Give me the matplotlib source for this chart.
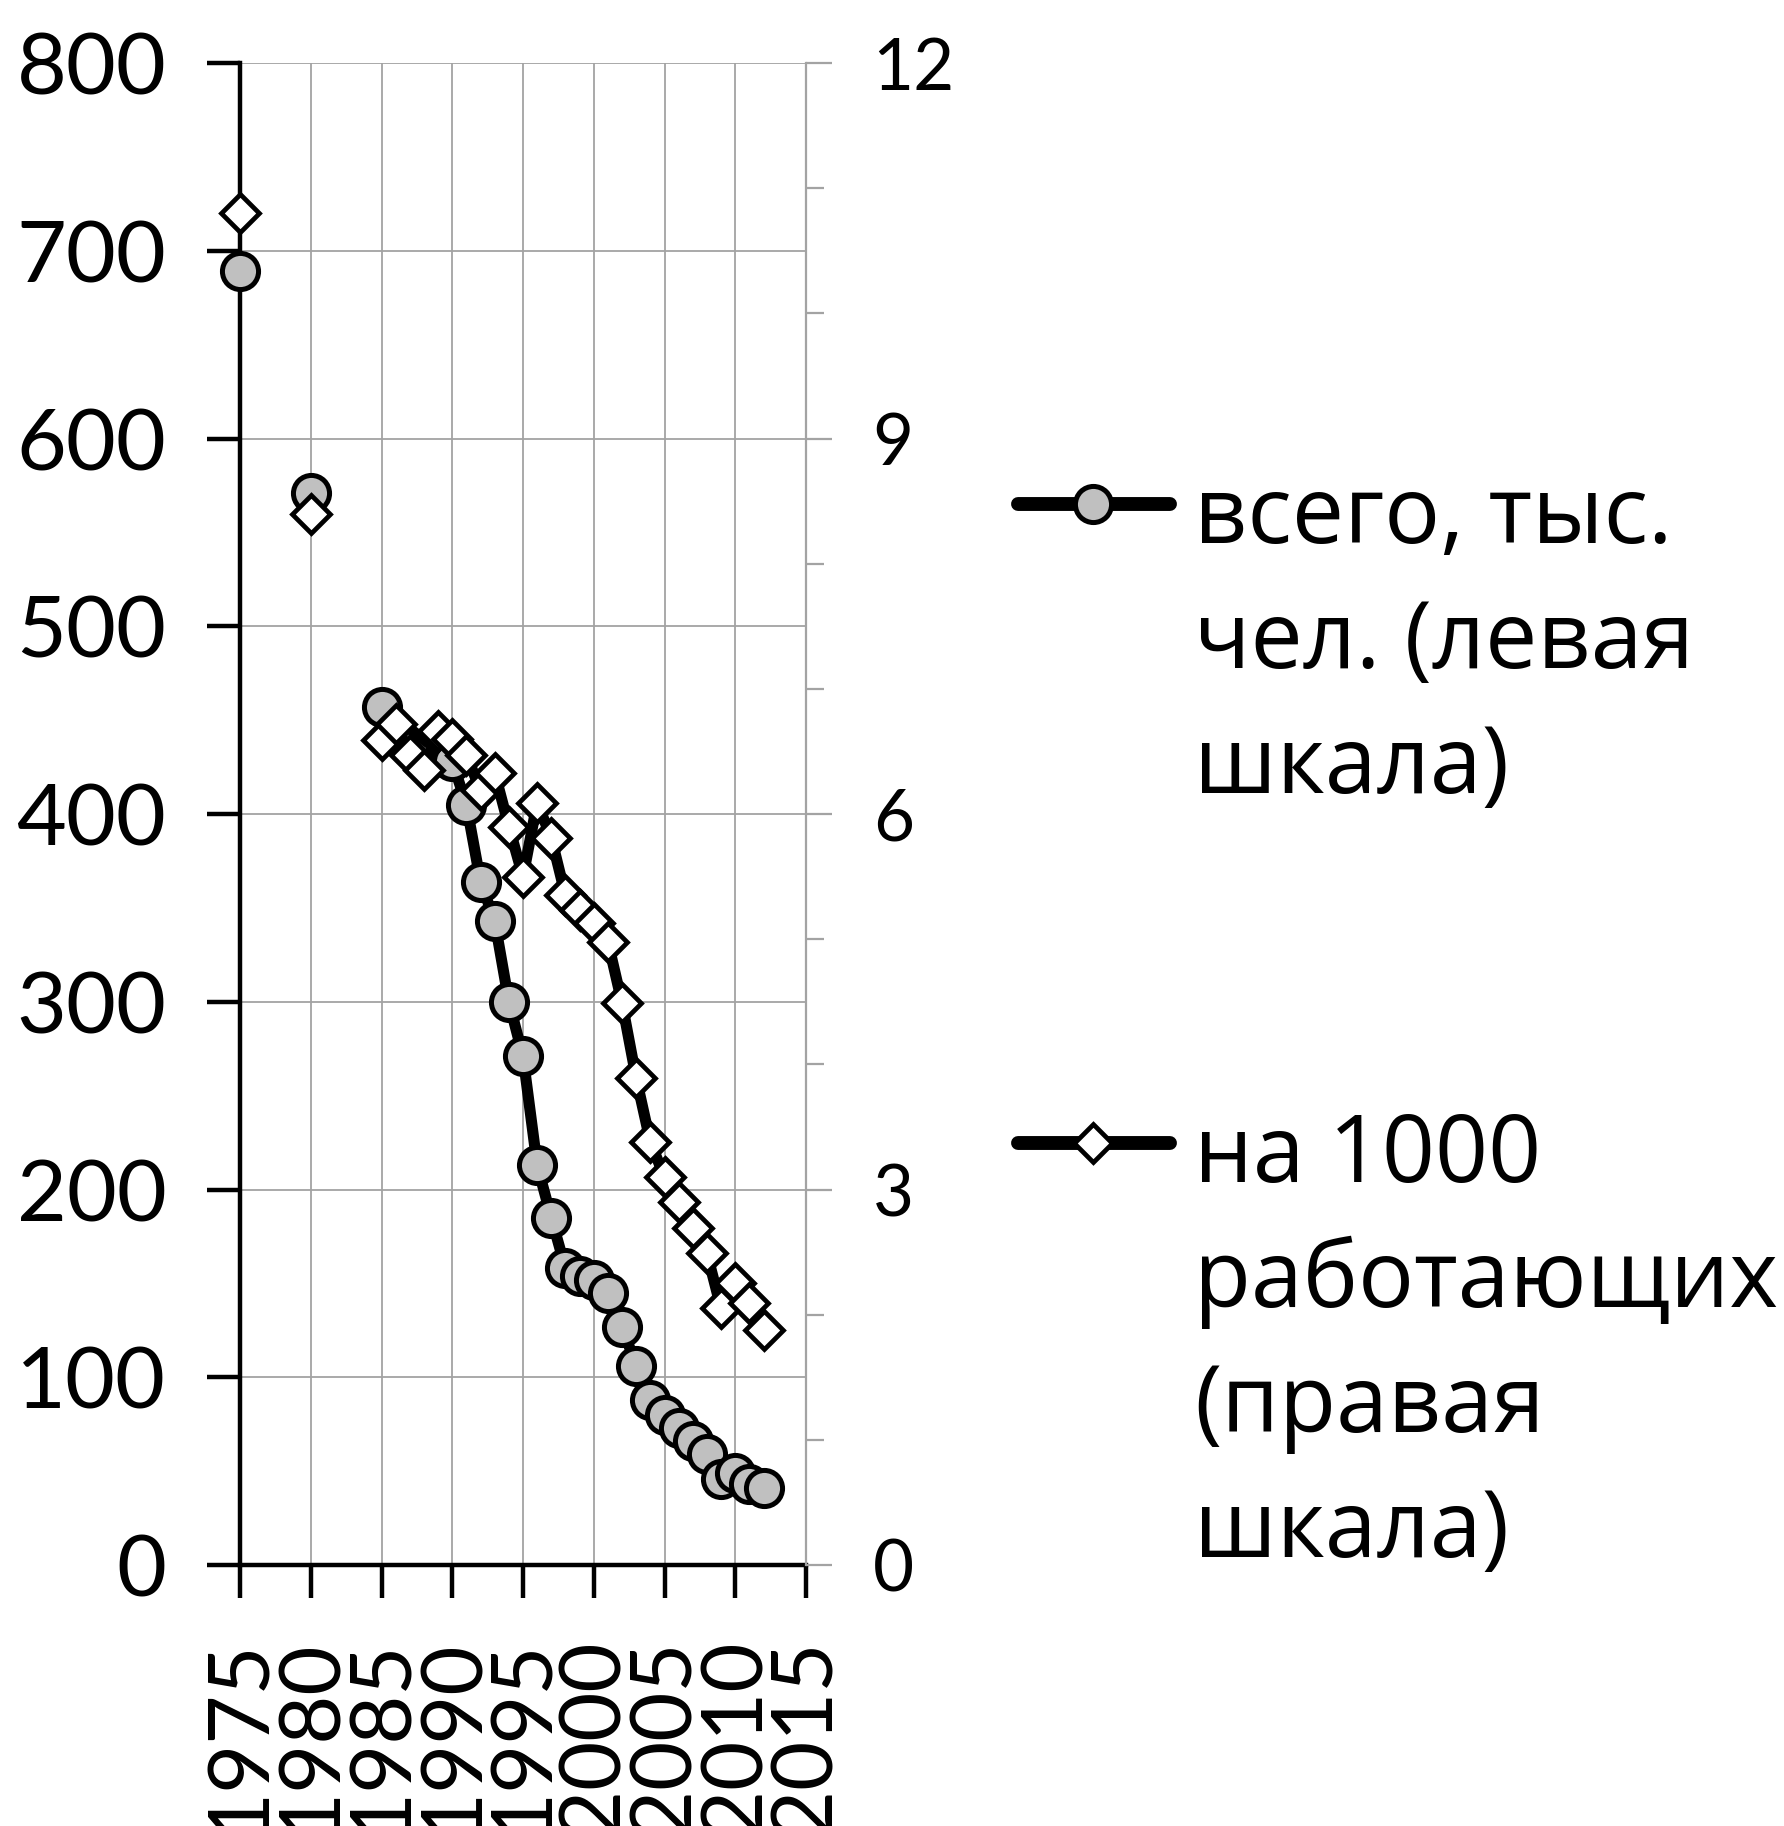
import numpy as np
import pandas as pd
import matplotlib
matplotlib.use('Agg')
import matplotlib.pyplot as plt
from matplotlib.lines import Line2D
from matplotlib.ticker import MultipleLocator

# values
# first series: no visible points for 1986-1989 (line runs under the diamonds)
years_total = [1975, 1980, 1985] + list(range(1990, 2013))
total = [689, 571,
         457, 428, 405, 364, 343, 300,
         271, 213, 185, 158, 154, 152, 145, 127, 106, 88,
         80, 73, 66, 59, 46, 49, 43, 41]
years_rate = [1975, 1980] + list(range(1985, 2013))
per_1000 = [10.8, 8.4,
            6.59, 6.72, 6.47, 6.35, 6.66, 6.60, 6.47, 6.19, 6.33, 5.90,
            5.50, 6.09, 5.81, 5.35, 5.23, 5.13, 4.98, 4.49, 3.89, 3.38,
            3.10, 2.90, 2.69, 2.49, 2.05, 2.25, 2.09, 1.88]

x_ticks = [1975, 1980, 1985, 1990, 1995, 2000, 2005, 2010, 2015]
left_ticks = [0, 100, 200, 300, 400, 500, 600, 700, 800]
right_ticks = [0, 3, 6, 9, 12]
label_total = ['всего, тыс.', 'чел. (левая', 'шкала)']
label_rate = ['на 1000', 'работающих', '(правая', 'шкала)']

plt.rcParams['font.family'] = ['Lato', 'DejaVu Sans']
LEGEND_FONT = ['Open Sans', 'DejaVu Sans']
GRID = '#a3a3a3'
W, H = 1784, 1826

fig = plt.figure(figsize=(W / 100, H / 100), dpi=100)
ax = fig.add_axes([240 / W, 1 - 1565 / H, 566 / W, 1502 / H])
ax2 = ax.twinx()

circle_style = dict(color='black', lw=8, marker='o', ms=26, mfc='#c0c0c0',
                    mec='black', mew=3.6, clip_on=False, zorder=3)
diamond_style = dict(color='black', lw=8, marker='D', ms=19.5, mfc='white',
                     mec='black', mew=3.4, clip_on=False, zorder=3)

# 1975 and 1980 stand alone, the yearly run from 1985 is joined
ax.plot(years_total[:2], total[:2], **{**circle_style, 'ls': 'none'})
ax.plot(years_total[2:], total[2:], **circle_style)
ax2.plot(years_rate[:2], per_1000[:2], **{**diamond_style, 'ls': 'none'})
ax2.plot(years_rate[2:], per_1000[2:], **diamond_style)

ax.set_xlim(1975, 2015)
ax.set_ylim(0, 800)
ax2.set_ylim(0, 12)

ax.set_xticks(x_ticks)
ax.set_xticklabels([str(y) for y in x_ticks], rotation=90, va='top', ha='center')
ax.set_yticks(left_ticks)
ax2.set_yticks(right_ticks)
ax2.yaxis.set_minor_locator(MultipleLocator(1))

ax.grid(True, color=GRID, lw=1.3)
ax.set_axisbelow(True)

for side in ['top', 'right']:
    ax.spines[side].set_visible(False)
for side in ['left', 'bottom']:
    ax.spines[side].set_linewidth(3.2)
for side in ['left', 'top', 'bottom']:
    ax2.spines[side].set_visible(False)
ax2.spines['right'].set_color(GRID)
ax2.spines['right'].set_linewidth(1.6)

ax.tick_params(axis='y', length=24, width=3.2, pad=29, labelsize=62)
ax.tick_params(axis='x', length=24, width=3.2, pad=29, labelsize=61)
ax2.tick_params(axis='y', which='major', length=19, width=1.6, color=GRID,
                pad=29, labelsize=51)
ax2.tick_params(axis='y', which='minor', length=13, width=1.6, color=GRID)


# legend drawn by hand: marker sits on the first text line
def fx(x):
    return x / W


def fy(y):
    return 1 - y / H


def legend_entry(y_handle, y_first, lines, style):
    fig.add_artist(Line2D([fx(1018), fx(1170)], [fy(y_handle), fy(y_handle)],
                          transform=fig.transFigure, color='black', lw=10,
                          solid_capstyle='round'))
    marker_style = {k: v for k, v in style.items() if k not in ('color', 'lw', 'clip_on', 'zorder')}
    fig.add_artist(Line2D([fx(1093)], [fy(y_handle)], transform=fig.transFigure,
                          ls='none', **marker_style))
    for i, txt in enumerate(lines):
        fig.text(fx(1194), fy(y_first + i * 125), txt, fontsize=67,
                 family=LEGEND_FONT, va='baseline', ha='left')


legend_entry(504, 543, label_total, circle_style)
legend_entry(1143, 1182, label_rate, diamond_style)

fig.savefig('out.png', dpi=100)
